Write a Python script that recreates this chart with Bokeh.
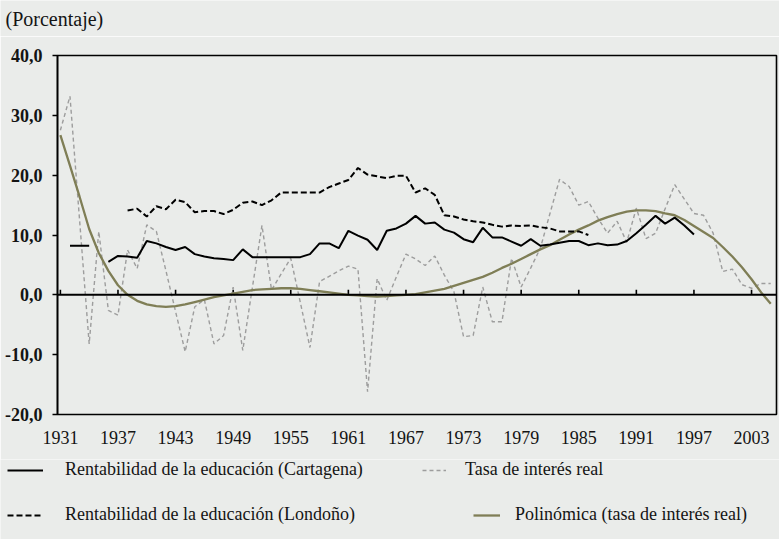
from bokeh.plotting import figure
from bokeh.models import Range1d, FixedTicker, Span, Legend, LegendItem, Label
from bokeh.embed import file_html
from bokeh.resources import INLINE

nan = float("nan")

years = list(range(1931, 2006))

cartagena = [nan, 8.2, 8.2, 8.2, nan, 5.5, 6.5, 6.4, 6.2, 9.0,
             8.6, 8.0, 7.5, 8.0, 6.8, 6.4, 6.1, 6.0, 5.8, 7.6,
             6.3, 6.3, 6.3, 6.3, 6.3, 6.3, 6.8, 8.6, 8.6, 7.8,
             10.7, 9.9, 9.2, 7.5, 10.7, 11.1, 11.9, 13.2, 11.9, 12.1,
             10.9, 10.4, 9.3, 8.8, 11.2, 9.6, 9.6, 8.9, 8.2, 9.3,
             8.2, 8.4, 8.7, 9.0, 9.0, 8.3, 8.6, 8.3, 8.4, 9.0,
             10.3, 11.7, 13.2, 11.9, 12.9, 11.6, 10.1, nan, nan, nan,
             nan, nan, nan, nan, nan]

londono = [nan, nan, nan, nan, nan, nan, nan, 14.1, 14.4, 13.1,
           14.8, 14.3, 15.9, 15.5, 13.8, 14.0, 14.0, 13.5, 14.2, 15.4,
           15.6, 15.0, 15.8, 17.1, 17.1, 17.1, 17.1, 17.1, 18.0, 18.6,
           19.2, 21.2, 20.1, 19.8, 19.5, 19.9, 19.9, 17.1, 17.8, 16.7,
           13.3, 13.1, 12.6, 12.3, 12.1, 11.7, 11.4, 11.6, 11.5, 11.6,
           11.3, 11.1, 10.6, 10.6, 10.6, 10.0, nan, nan, nan, nan,
           nan, nan, nan, nan, nan, nan, nan, nan, nan, nan,
           nan, nan, nan, nan, nan]

tasa = [27.5, 33.2, 12.5, -8.2, 10.6, -2.6, -3.4, 7.5, 4.4, 11.7,
        10.6, 4.0, -2.8, -9.5, -2.0, -0.8, -8.2, -6.8, 1.3, -9.3,
        1.2, 11.6, 0.8, 3.5, 6.1, -1.3, -8.8, 2.2, 3.1, 4.0,
        4.8, 4.3, -16.2, 2.7, -0.9, 3.0, 6.8, 6.0, 4.9, 6.5,
        3.3, 0.5, -7.0, -6.8, 1.3, -4.5, -4.5, 6.1, 1.3, 4.5,
        7.8, 13.6, 19.3, 18.1, 15.0, 15.6, 12.8, 10.3, 12.3, 8.8,
        14.5, 9.4, 10.3, 14.4, 18.4, 16.0, 13.6, 13.3, 10.3, 3.9,
        4.3, 1.7, 1.1, 1.9, 1.9]

polinomica = [26.7, 21.6, 16.4, 11.0, 7.0, 4.0, 1.6, 0.0, -1.0, -1.6,
              -1.9, -2.0, -1.9, -1.6, -1.2, -0.8, -0.4, -0.1, 0.2, 0.5,
              0.8, 0.9, 1.0, 1.1, 1.1, 1.0, 0.8, 0.6, 0.4, 0.2,
              0.0, -0.1, -0.2, -0.3, -0.2, -0.1, 0.0, 0.1, 0.4, 0.7,
              1.0, 1.5, 2.0, 2.5, 3.0, 3.7, 4.5, 5.2, 6.0, 6.8,
              7.6, 8.3, 9.2, 10.1, 10.9, 11.6, 12.4, 13.0, 13.5, 13.9,
              14.1, 14.1, 14.0, 13.6, 13.3, 12.5, 11.5, 10.5, 9.5, 8.0,
              6.4, 4.6, 2.6, 0.4, -1.5]

x_ticks = [1931, 1937, 1943, 1949, 1955, 1961, 1967, 1973, 1979, 1985, 1991, 1997, 2003]
y_ticks = [-20, -10, 0, 10, 20, 30, 40]
y_labels = ["-20,0", "-10,0", "0,0", "10,0", "20,0", "30,0", "40,0"]

y_title = "(Porcentaje)"
labels = ["Rentabilidad de la educación (Cartagena)",
          "Tasa de interés real",
          "Rentabilidad de la educación (Londoño)",
          "Polinómica (tasa de interés real)"]

BG = "#eaecea"
INK = "#141414"
FONT = "Liberation Serif"
W = 779

STYLE_CAR = dict(line_color="black", line_width=2)
STYLE_LON = dict(line_color="black", line_width=2, line_dash="6 3")
STYLE_TASA = dict(line_color="#9d9d9d", line_width=1.4, line_dash="4 3")
STYLE_POLY = dict(line_color="#7f7e56", line_width=2.3)


def strip(height):
    """A plain figure whose frame is the whole canvas, in pixel units."""
    s = figure(width=W, height=height, output_backend="svg", toolbar_location=None,
               x_range=Range1d(0, W), y_range=Range1d(0, height),
               x_axis_location=None, y_axis_location=None,
               min_border_left=0, min_border_right=0, min_border_top=0,
               min_border_bottom=0)
    s.grid.visible = False
    s.outline_line_color = None
    s.background_fill_color = BG
    s.border_fill_color = BG
    return s


# ---- top strip: axis title ----
TOP_H = 36
top = strip(TOP_H)
top.add_layout(Label(x=5, y=TOP_H - 18, text=y_title, text_font=FONT,
                     text_font_size="20px", text_color=INK,
                     text_baseline="middle", text_align="left"))

# ---- main chart ----
X0, X1 = 1930.7, 2005.6
Y0, Y1 = -20, 40
FH = 359

p = figure(width=W, height=423, output_backend="svg", toolbar_location=None,
           x_range=Range1d(X0, X1), y_range=Range1d(Y0, Y1),
           min_border_left=57, min_border_right=3, min_border_top=19,
           min_border_bottom=45)
p.background_fill_color = BG
p.border_fill_color = BG
p.outline_line_color = "black"
p.outline_line_width = 1.6
p.xgrid.visible = False
p.ygrid.visible = False

p.xaxis.ticker = FixedTicker(ticks=x_ticks)
p.xaxis.major_tick_line_color = None
p.xaxis.minor_tick_line_color = None
p.xaxis.axis_line_color = None
p.xaxis.major_label_text_font = FONT
p.xaxis.major_label_text_font_size = "18px"
p.xaxis.major_label_text_color = INK
p.xaxis.major_label_standoff = 10

p.yaxis.ticker = FixedTicker(ticks=y_ticks)
p.yaxis.major_label_overrides = dict(zip(y_ticks, y_labels))
p.yaxis.major_tick_out = 5
p.yaxis.major_tick_in = 0
p.yaxis.minor_tick_line_color = None
p.yaxis.axis_line_width = 1.6
p.yaxis.major_tick_line_width = 1.4
p.yaxis.major_label_text_font = FONT
p.yaxis.major_label_text_font_style = "bold"
p.yaxis.major_label_text_font_size = "18px"
p.yaxis.major_label_text_color = INK
p.yaxis.major_label_standoff = 10

p.add_layout(Span(location=0, dimension="width", line_color="black", line_width=2))
tick_h = 5 * (Y1 - Y0) / FH
p.segment(x0=x_ticks, y0=[0] * len(x_ticks), x1=x_ticks,
          y1=[tick_h] * len(x_ticks), line_color="black", line_width=1.6)

p.line(years, tasa, **STYLE_TASA)
p.line(years, polinomica, **STYLE_POLY)
p.line(years, londono, **STYLE_LON)
p.line(years, cartagena, **STYLE_CAR)

# ---- legend strip ----
LEG_H = 80
lg = strip(LEG_H)
off = [-100, -99]  # swatch renderers kept outside the visible range
sw_car = lg.line(off, off, **STYLE_CAR)
sw_tasa = lg.line(off, off, **STYLE_TASA)
sw_lon = lg.line(off, off, **STYLE_LON)
sw_poly = lg.line(off, off, **STYLE_POLY)

leg_specs = [
    (labels[0], sw_car, 7, 59, 36, 22),
    (labels[1], sw_tasa, 422, 59, 24, 19),
    (labels[2], sw_lon, 7, 14, 36, 22),
    (labels[3], sw_poly, 473, 14, 27, 15),
]
for text, rend, lx, ly, gw, st in leg_specs:
    leg = Legend(items=[LegendItem(label=text, renderers=[rend])],
                 location=(lx, ly), orientation="horizontal",
                 glyph_width=gw, glyph_height=20, label_height=20,
                 label_standoff=st, padding=0, margin=0, spacing=0,
                 background_fill_alpha=0, border_line_color=None,
                 label_text_font=FONT, label_text_font_size="18px",
                 label_text_color=INK)
    lg.add_layout(leg, "center")

html = file_html([top, p, lg], INLINE)
html = html.replace("<body>", '<body style="background-color:%s">' % BG, 1)
open("out.html", "w").write(html)
